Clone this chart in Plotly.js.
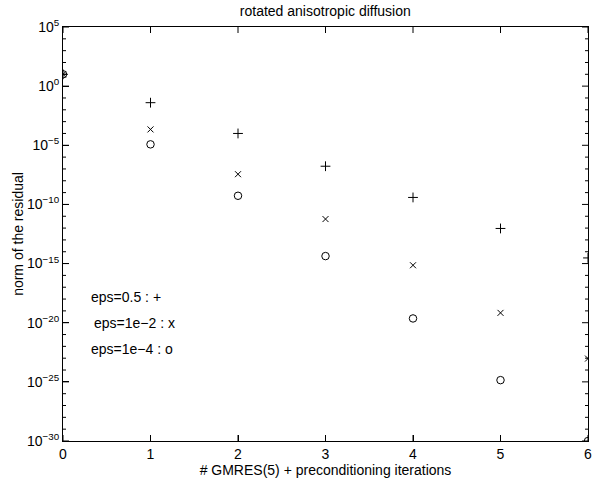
<!DOCTYPE html>
<html>
<head>
<meta charset="utf-8">
<script src="https://cdn.plot.ly/plotly-3.0.1.min.js"></script>
<style>html,body{margin:0;padding:0;background:#fff;}#chart{width:592px;height:481px;}</style>
</head>
<body>
<div id="chart"></div>
<script>
var iterations = [0, 1, 2, 3, 4, 5, 6];
var resEps05 = [10, 4.0e-2, 1.0e-4, 1.7e-7, 3.9e-10, 9.3e-13, 3.0e-15];
var resEps1e2 = [10, 2.2e-4, 3.6e-8, 5.8e-12, 7.2e-16, 6.8e-20, 9.3e-24];
var resEps1e4 = [10, 1.2e-5, 5.4e-10, 4.3e-15, 2.3e-20, 1.4e-25, 1.0e-30];
var yTickExp = [5, 0, -5, -10, -15, -20, -25, -30];
var legendLines = ['eps=0.5 : +', 'eps=1e\u22122 : x', 'eps=1e\u22124 : o'];
var legendX = [0.33, 0.36, 0.33];
var legendY = [1.45e-18, 9.1e-21, 5.8e-23];

var FONT = 'Liberation Sans, Arial, Helvetica, sans-serif';
var FS = 14;
var yTickVals = yTickExp.map(function(e){return Math.pow(10, e);});
var yTickText = yTickExp.map(function(e){return '10<sup>' + String(e).replace('-', '\u2212') + '</sup>';});

function tr(y, sym, size) {
  return {x: iterations, y: y, mode: 'markers', type: 'scatter', cliponaxis: true, hoverinfo: 'skip',
    marker: {symbol: sym, size: size, color: '#000', line: {color: '#000', width: 1}}};
}
var data = [
  tr(resEps05, 'cross-thin-open', 7),
  tr(resEps1e2, 'x-thin-open', 6),
  tr(resEps1e4, 'circle-open', 7.5)
];
var annotations = legendLines.map(function(t, i){
  return {x: legendX[i], y: Math.log10(legendY[i]), xref: 'x', yref: 'y', text: t, showarrow: false,
    xanchor: 'left', yanchor: 'middle', xshift: -3, font: {family: FONT, size: FS, color: '#000'}};
});

// inward tick marks (bottom/top for x, left/right for y), placed through the axes
var tickLine = {color: '#000', width: 1};
var shapes = [];
iterations.forEach(function(v){
  shapes.push({type: 'line', xref: 'x', yref: 'paper', ysizemode: 'pixel', yanchor: 0, x0: v, x1: v, y0: 0, y1: 6, line: tickLine, layer: 'above'});
  shapes.push({type: 'line', xref: 'x', yref: 'paper', ysizemode: 'pixel', yanchor: 1, x0: v, x1: v, y0: -6, y1: 0, line: tickLine, layer: 'above'});
});
for (var k = -30; k <= 5; k++) {
  var len = (k % 5 === 0) ? 6 : 3;
  shapes.push({type: 'line', xref: 'paper', yref: 'y2', xsizemode: 'pixel', xanchor: 0, x0: 0, x1: len, y0: k, y1: k, line: tickLine, layer: 'above'});
  shapes.push({type: 'line', xref: 'paper', yref: 'y2', xsizemode: 'pixel', xanchor: 1, x0: -len, x1: 0, y0: k, y1: k, line: tickLine, layer: 'above'});
}

var layout = {
  width: 592, height: 481,
  margin: {l: 63, r: 4, t: 27, b: 40},
  showlegend: false,
  font: {family: FONT, size: FS, color: '#000'},
  title: {text: 'rotated anisotropic diffusion', font: {family: FONT, size: FS, color: '#000'},
    x: 0.5495, xanchor: 'center', y: 0.977, yanchor: 'middle'},
  xaxis: {range: [0, 6], tickvals: iterations, ticks: 'inside', ticklen: 6, tickwidth: 1,
    tickcolor: '#000', showline: true, linecolor: '#000', mirror: true,
    showgrid: false, zeroline: false, tickfont: {family: FONT, size: FS}, ticklabeloverflow: 'allow',
    title: {text: '# GMRES(5) + preconditioning iterations', font: {family: FONT, size: FS}, standoff: 0}},
  yaxis: {type: 'log', range: [-30, 5], tickvals: yTickVals, ticktext: yTickText,
    ticks: 'inside', ticklen: 6, tickwidth: 1, tickcolor: '#000', showline: true, linecolor: '#000',
    mirror: true, showgrid: false, zeroline: false,
    tickfont: {family: FONT, size: FS},
    title: {text: 'norm of the residual', font: {family: FONT, size: FS}, standoff: 0}},
  yaxis2: {overlaying: 'y', range: [-30, 5], visible: false, showgrid: false, zeroline: false, fixedrange: true},
  annotations: annotations,
  shapes: shapes
};
Plotly.newPlot('chart', data, layout, {displayModeBar: false});
</script>
</body>
</html>
